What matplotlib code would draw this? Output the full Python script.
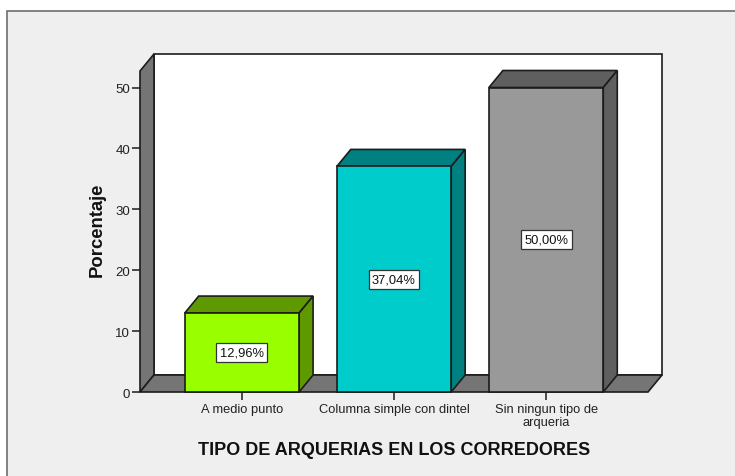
"""
Arquerias bar chart, SPSS style fake 3D bars.
"""

import matplotlib
matplotlib.use("Agg")
import matplotlib.pyplot as plt
from matplotlib.patches import Polygon, Rectangle

plt.rcParams["font.family"] = ["Liberation Sans", "DejaVu Sans"]

categories = ["A medio punto", "Columna simple con dintel", "Sin ningun tipo de\narqueria"]
values = [12.96, 37.04, 50.00]
value_labels = ["12,96%", "37,04%", "50,00%"]
y_ticks = [0, 10, 20, 30, 40, 50]

front_colors = ["#99ff00", "#00cccc", "#999999"]
shade_colors = ["#5f9900", "#008080", "#5f5f5f"]

W, H = 735, 477
LINE = "#1c1c1c"
WALL = "#757575"

# pixel box of the front plane
LEFT, RIGHT, BOTTOM, TOP = 140, 648, 393, 72

fig = plt.figure(figsize=(W / 100, H / 100), dpi=100, facecolor="white")
# zorder below the axes, otherwise the panel hides the chart
fig.add_artist(Rectangle((7 / W, -0.05), 1.05, (H - 12) / H + 0.05, transform=fig.transFigure,
                         facecolor="#efefef", edgecolor="#6e6e6e", lw=1.2, zorder=-1))

ax = fig.add_axes([LEFT / W, 1 - BOTTOM / H, (RIGHT - LEFT) / W, (BOTTOM - TOP) / H])
ax.patch.set_visible(False)
ax.set_xlim(-0.67, 2.67)
ax.set_ylim(0, (BOTTOM - TOP) / 6.09)
x0, x1 = ax.get_xlim()
y0, y1 = ax.get_ylim()

# depth of the 3D effect, in data units
dx = 14 / 152.25
dy = 17 / 6.09
bar_w = 0.752


def poly(pts, color, z):
    ax.add_patch(Polygon(pts, closed=True, facecolor=color, edgecolor=LINE, lw=1.2,
                         joinstyle="miter", clip_on=False, zorder=z))


# back wall, left wall, floor
poly([(x0 + dx, y0 + dy), (x1 + dx, y0 + dy), (x1 + dx, y1 + dy), (x0 + dx, y1 + dy)], "white", 1)
poly([(x0, y0), (x0 + dx, y0 + dy), (x0 + dx, y1 + dy), (x0, y1)], WALL, 2)
poly([(x0, y0), (x1, y0), (x1 + dx, y0 + dy), (x0 + dx, y0 + dy)], WALL, 2)

for i, v in enumerate(values):
    l, r = i - bar_w / 2, i + bar_w / 2
    ax.bar(i, v, width=bar_w, color=front_colors[i], edgecolor=LINE, linewidth=1.2,
           clip_on=False, zorder=4)
    poly([(l, v), (r, v), (r + dx, v + dy), (l + dx, v + dy)], shade_colors[i], 3)
    poly([(r, 0), (r + dx, dy), (r + dx, v + dy), (r, v)], shade_colors[i], 3)
    ax.text(i, v / 2, value_labels[i], ha="center", va="center", fontsize=9.3, color="#111111",
            zorder=6, bbox=dict(boxstyle="square,pad=0.27", facecolor="white",
                                edgecolor="#333333", lw=0.9))

for s in ax.spines.values():
    s.set_visible(False)

ax.set_xticks(range(len(categories)))
ax.set_xticklabels(categories, fontsize=9.25, color="#222222", linespacing=1.08)
ax.set_yticks(y_ticks)
ax.set_yticklabels([str(t) for t in y_ticks], fontsize=9.5, color="#222222")
ax.tick_params(axis="x", length=5.5, width=1.1, color=LINE, pad=2.5)
ax.tick_params(axis="y", length=5.5, width=1.1, color=LINE, pad=1.5)

fig.text(394.5 / W, 1 - 451 / H, "TIPO DE ARQUERIAS EN LOS CORREDORES", ha="center", va="center",
         fontsize=12.95, fontweight="bold", color="#111111")
fig.text(97 / W, 1 - 230 / H, "Porcentaje", ha="center", va="center", rotation=90,
         fontsize=13.3, fontweight="bold", color="#111111")

fig.savefig("out.png", dpi=100, facecolor="white")
